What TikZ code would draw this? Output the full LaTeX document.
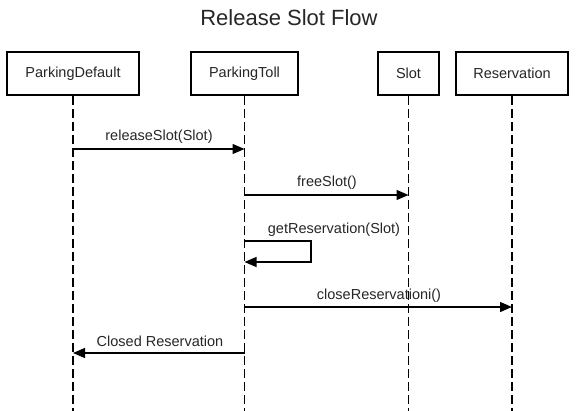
\documentclass[tikz,border=0pt]{standalone}
\usepackage{fontspec}
\setmainfont{Liberation Sans}
\usetikzlibrary{arrows.meta}
\begin{document}
\begin{tikzpicture}[x=1pt,y=-1pt,
  obj/.style={draw=black, line width=2.2pt, fill=white, minimum height=43pt, inner sep=0pt, font=\fontsize{14.5}{16}\selectfont, text=black!85},
  life/.style={draw=black, line width=1.1pt, dash pattern=on 9pt off 4pt},
  msg/.style={draw=black, line width=1.3pt, -{Triangle[length=12pt,width=10pt]}},
  lbl/.style={font=\fontsize{14.5}{16}\selectfont, inner sep=0pt, text=black!85}]
\useasboundingbox (0,0) rectangle (577,411);
\node[font=\fontsize{22}{26}\selectfont, text=black!85] (title) at (289,18) {Release Slot Flow};
\node[obj, minimum width=132pt] (pd) at (73,73.5) {ParkingDefault};
\node[obj, minimum width=107pt] (pt) at (244.5,73.5) {ParkingToll};
\node[obj, minimum width=61pt] (sl) at (408.5,73.5) {Slot};
\node[obj, minimum width=112pt] (rs) at (512,73.5) {Reservation};
\coordinate (pdEnd) at (73,411);
\coordinate (ptEnd) at (244.5,411);
\coordinate (slEnd) at (408.5,411);
\coordinate (rsEnd) at (512,411);
\draw[life] (pd.south) -- (pdEnd);
\draw[life] (pt.south) -- (ptEnd);
\draw[life] (sl.south) -- (slEnd);
\draw[life] (rs.south) -- (rsEnd);
% message anchor points
\coordinate (pd1) at (73,149);
\coordinate (pt1) at (244.5,149);
\coordinate (pt2) at (244.5,195);
\coordinate (sl2) at (408.5,195);
\coordinate (pt3a) at (244.5,241);
\coordinate (lp1) at (311,241);
\coordinate (lp2) at (311,262);
\coordinate (pt3b) at (244.5,262);
\coordinate (pt4) at (244.5,307);
\coordinate (rs4) at (512,307);
\coordinate (pt5) at (244.5,353);
\coordinate (pd5) at (73,353);
\draw[msg] (pd1) -- (pt1);
\node[lbl] (l1) at (159,137) {releaseSlot(Slot)};
\draw[msg] (pt2) -- (sl2);
\node[lbl] (l2) at (327,183) {freeSlot()};
\draw[msg] (pt3a) -- (lp1) -- (lp2) -- (pt3b);
\node[lbl] (l3) at (334,230) {getReservation(Slot)};
\draw[msg] (pt4) -- (rs4);
\node[lbl] (l4) at (379,296) {closeReservationi()};
\draw[msg] (pt5) -- (pd5);
\node[lbl] (l5) at (160,341) {Closed Reservation};
\end{tikzpicture}
\end{document}
